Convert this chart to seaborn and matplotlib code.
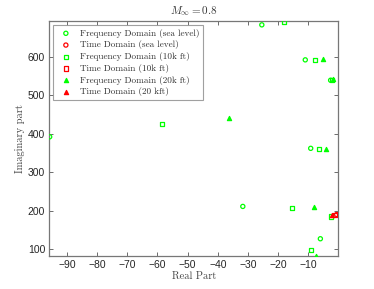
import matplotlib
matplotlib.use("Agg")
import matplotlib.pyplot as plt
import numpy as np
import pandas as pd
import seaborn as sns

sns.set_style("ticks")
plt.rcParams['mathtext.fontset'] = 'cm'

# eigenvalues (real, imaginary)
freq_sea_re = [-95.7, -25.4, -11.0, -2.6, -9.2, -31.7, -6.0]
freq_sea_im = [392, 683, 592, 539, 362, 211, 127]
time_sea_re = [-0.6]
time_sea_im = [190]
freq_10k_re = [-58.6, -18.0, -7.7, -2.2, -6.4, -15.3, -9.2, -2.4]
freq_10k_im = [425, 691, 592, 540, 360, 207, 98, 185]
time_10k_re = [-1.2]
time_10k_im = [189]
freq_20k_re = [-36.4, -5.1, -1.8, -4.2, -8.1, -7.4]
freq_20k_im = [442, 593, 541, 360, 209, 82]
time_20k_re = [-2.0]
time_20k_im = [188]

series = [
    ("Frequency Domain (sea level)", freq_sea_re, freq_sea_im, "o", "#00ff00", False),
    ("Time Domain (sea level)", time_sea_re, time_sea_im, "o", "#ff0000", False),
    ("Frequency Domain (10k ft)", freq_10k_re, freq_10k_im, "s", "#00ff00", False),
    ("Time Domain (10k ft)", time_10k_re, time_10k_im, "s", "#ff0000", False),
    ("Frequency Domain (20k ft)", freq_20k_re, freq_20k_im, "^", "#00ff00", True),
    ("Time Domain (20 kft)", time_20k_re, time_20k_im, "^", "#ff0000", True),
]

fig = plt.figure(figsize=(3.74, 2.89), dpi=100)
ax = fig.add_axes([0.132, 0.114, 0.773, 0.812])

for name, re, im, mk, col, filled in series:
    sns.scatterplot(x=re, y=im, marker=mk, s=9, facecolor=col if filled else "none",
                    edgecolor=col, linewidth=0.9, label=name, ax=ax, zorder=3)

ax.set_xlim(-95.8, 0)
ax.set_ylim(82, 692)
ax.set_xticks(np.arange(-90, 0, 10))
ax.set_yticks(np.arange(100, 700, 100))
ax.tick_params(direction="in", top=True, right=True, length=3, width=0.6,
               color="#555555", labelsize=7.5, pad=3)
for lab in ax.get_xticklabels() + ax.get_yticklabels():
    lab.set_family("Liberation Sans")
for sp in ax.spines.values():
    sp.set_color("#777777")
    sp.set_linewidth(0.9)

ax.set_xlabel("Real Part", family="cmr10", fontsize=7.5, color="#444444", labelpad=1)
ax.set_ylabel("Imaginary part", family="cmr10", fontsize=7.5, color="#444444", labelpad=2)
ax.set_title(r"$M_\infty = 0.8$", fontsize=8, color="#333333", pad=5)

leg = ax.legend(loc="upper left", prop={"family": "cmr10", "size": 6.6},
                frameon=True, fancybox=False, edgecolor="#888888", borderpad=0.4,
                handletextpad=0.5, labelspacing=0.3, borderaxespad=0.4, markerscale=1.0)
leg.get_frame().set_linewidth(0.8)
for t in leg.get_texts():
    t.set_color("#333333")

fig.savefig("out.png", dpi=100)
